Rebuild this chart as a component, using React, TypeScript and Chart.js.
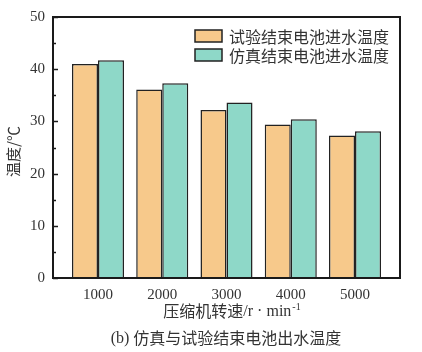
import React, { useEffect, useRef } from "react";
import { Chart, registerables } from "chart.js";

Chart.register(...registerables);

const speeds = [1000, 2000, 3000, 4000, 5000];
const testTemps = [41.0, 36.1, 32.2, 29.4, 27.3];
const simTemps = [41.7, 37.3, 33.6, 30.4, 28.1];
const seriesLabels = ["试验结束电池进水温度", "仿真结束电池进水温度"];
const yTicks = [0, 10, 20, 30, 40, 50];
const xTitle = "压缩机转速/r · min";
const yTitle = "温度/℃";
const caption = "(b) 仿真与试验结束电池出水温度";

const ORANGE = "#F7C98B";
const TEAL = "#8ED8C8";
const CJK = '"Noto Sans CJK SC", sans-serif';
const SERIF = '"Liberation Serif", "DejaVu Serif", serif';

const decor = {
  id: "decor",
  afterDraw(chart: any) {
    const ctx = chart.ctx;
    const ca = chart.chartArea;
    const y = chart.scales.y;
    ctx.save();
    // frame
    ctx.strokeStyle = "#1a1a1a";
    ctx.lineWidth = 2;
    ctx.strokeRect(ca.left, ca.top, ca.right - ca.left, ca.bottom - ca.top);
    // inward ticks on left axis
    ctx.lineWidth = 1.5;
    for (let v = 0; v <= 50; v += 5) {
      const py = Math.round(y.getPixelForValue(v)) + 0.5;
      const len = v % 10 === 0 ? 5 : 3;
      ctx.beginPath();
      ctx.moveTo(ca.left, py);
      ctx.lineTo(ca.left + len, py);
      ctx.stroke();
    }
    // legend
    const lx = ca.right - 205;
    const rows = [ca.top + 19, ca.top + 38];
    chart.data.datasets.forEach((ds: any, i: number) => {
      const cy = rows[i];
      ctx.fillStyle = ds.backgroundColor;
      ctx.fillRect(lx, cy - 6, 27, 12);
      ctx.strokeStyle = "#222";
      ctx.lineWidth = 1.5;
      ctx.strokeRect(lx, cy - 6, 27, 12);
      ctx.fillStyle = "#333";
      ctx.font = `16px ${CJK}`;
      ctx.textAlign = "left";
      ctx.textBaseline = "middle";
      ctx.fillText(ds.label, lx + 34, cy + 1);
    });
    // y title
    ctx.save();
    ctx.translate(13, (ca.top + ca.bottom) / 2 + 4);
    ctx.rotate(-Math.PI / 2);
    ctx.fillStyle = "#333";
    ctx.textAlign = "center";
    ctx.textBaseline = "middle";
    ctx.font = `15px ${CJK}`;
    ctx.fillText(yTitle, 0, 0);
    ctx.restore();
    // x title with superscript
    const cx = (ca.left + ca.right) / 2 + 5;
    const ty = 311;
    ctx.textBaseline = "middle";
    ctx.fillStyle = "#333";
    const cjkPart = "压缩机转速";
    const latPart = xTitle.slice(cjkPart.length);
    ctx.font = `16px ${CJK}`;
    const w1 = ctx.measureText(cjkPart).width;
    ctx.font = `16px ${SERIF}`;
    const w2 = ctx.measureText(latPart).width;
    ctx.font = `10px ${SERIF}`;
    const w3 = ctx.measureText("-1").width;
    let sx = cx - (w1 + w2 + w3) / 2;
    ctx.textAlign = "left";
    ctx.font = `16px ${CJK}`;
    ctx.fillText(cjkPart, sx, ty);
    sx += w1;
    ctx.font = `16px ${SERIF}`;
    ctx.fillText(latPart, sx, ty + 1);
    sx += w2;
    ctx.font = `10px ${SERIF}`;
    ctx.fillText("-1", sx + 1, ty - 4);
    // caption
    const capA = "(b) ";
    const capB = caption.slice(capA.length);
    ctx.font = `16px ${SERIF}`;
    const c1 = ctx.measureText(capA).width;
    ctx.font = `16px ${CJK}`;
    const c2 = ctx.measureText(capB).width;
    let qx = 226 - (c1 + c2) / 2;
    ctx.font = `16px ${SERIF}`;
    ctx.fillText(capA, qx, 339);
    ctx.font = `16px ${CJK}`;
    ctx.fillText(capB, qx + c1, 338);
    ctx.restore();
  },
};

export default function App() {
  const ref = useRef<HTMLCanvasElement | null>(null);
  useEffect(() => {
    document.body.style.margin = "0";
    const canvas = ref.current!;
    const chart = new Chart(canvas, {
      type: "bar",
      data: {
        datasets: [
          {
            label: seriesLabels[0],
            data: speeds.map((s, i) => ({ x: s, y: testTemps[i] })),
            backgroundColor: ORANGE,
            borderColor: "#222",
            borderWidth: 1.5,
          },
          {
            label: seriesLabels[1],
            data: speeds.map((s, i) => ({ x: s, y: simTemps[i] })),
            backgroundColor: TEAL,
            borderColor: "#222",
            borderWidth: 1.5,
          },
        ],
      },
      options: {
        animation: false,
        responsive: false,
        maintainAspectRatio: false,
        layout: { padding: { top: 9, right: 22, left: 0, bottom: 0 } },
        datasets: { bar: { categoryPercentage: 0.81, barPercentage: 1.0 } },
        plugins: { legend: { display: false }, tooltip: { enabled: false } },
        scales: {
          x: {
            type: "linear",
            min: 300,
            max: 5700,
            offset: false,
            afterBuildTicks: (s: any) => {
              s.ticks = speeds.map((v) => ({ value: v }));
            },
            afterFit: (s: any) => {
              s.height = 74;
            },
            grid: { display: false, drawTicks: false, offset: false },
            border: { display: false },
            ticks: {
              padding: 8,
              color: "#333",
              font: { family: SERIF, size: 15 },
              maxRotation: 0,
              callback: (v: any) => String(v),
            },
          },
          y: {
            min: 0,
            max: 50,
            afterBuildTicks: (s: any) => {
              s.ticks = yTicks.map((v) => ({ value: v }));
            },
            afterFit: (s: any) => {
              s.width = 53;
            },
            grid: { display: false, drawTicks: false },
            border: { display: false },
            ticks: {
              padding: 8,
              color: "#333",
              font: { family: SERIF, size: 15 },
            },
          },
        },
      },
      plugins: [decor],
    });
    return () => chart.destroy();
  }, []);
  return (
    <div style={{ position: "fixed", left: 0, top: 0, width: 422, height: 352, background: "#fff" }}>
      <canvas ref={ref} width={422} height={352} style={{ width: 422, height: 352 }} />
    </div>
  );
}
